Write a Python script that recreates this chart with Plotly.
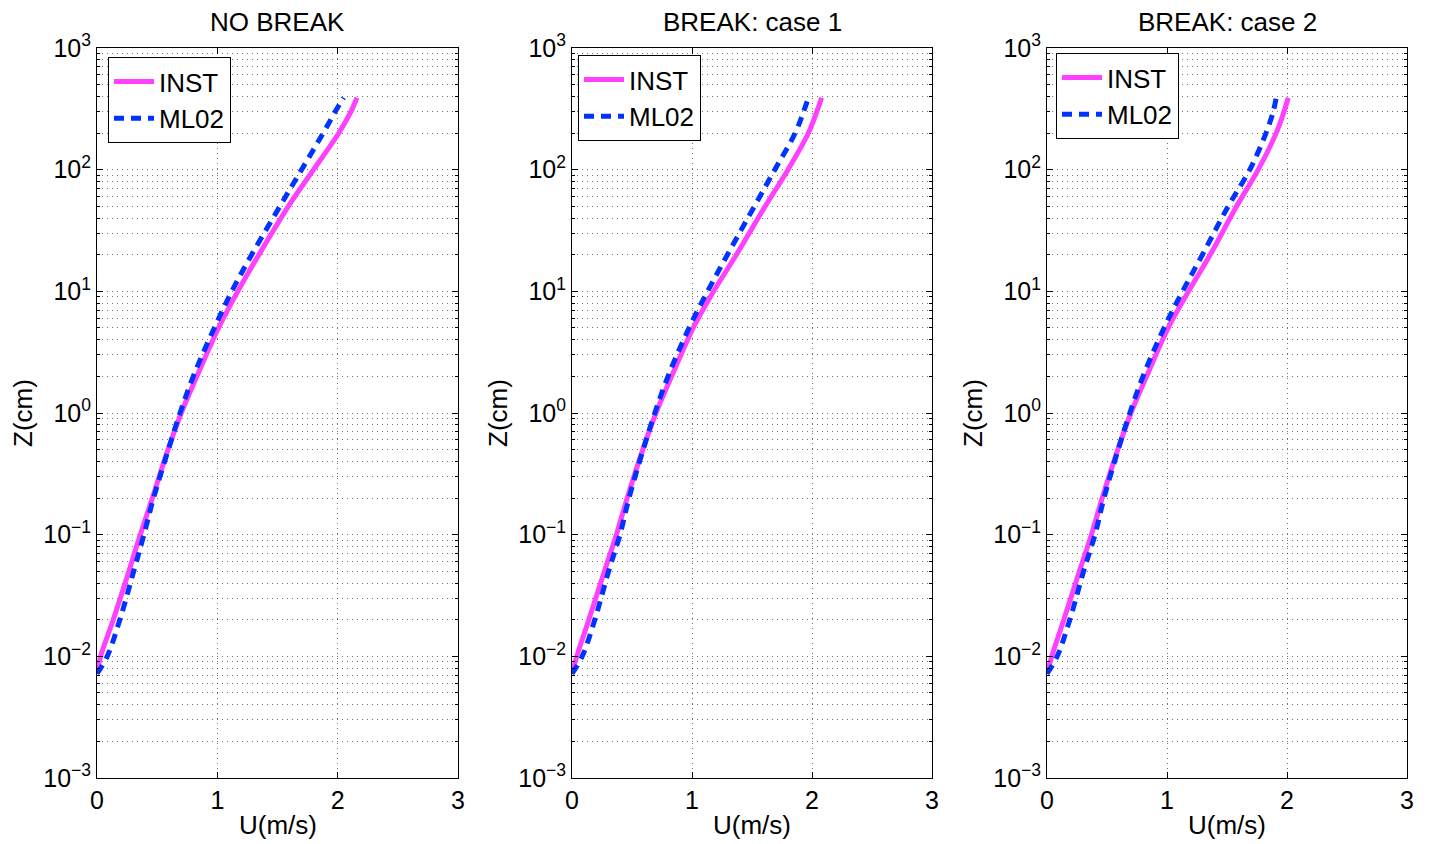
import plotly.graph_objects as go

# ---------------- data ----------------
z_cm = [0.0072, 0.01, 0.02, 0.05, 0.1, 0.2, 0.5, 1, 2, 5, 10, 20, 50, 100, 200, 300, 390]

panel_titles = ["NO BREAK", "BREAK: case 1", "BREAK: case 2"]
series_names = ["INST", "ML02"]

inst_nobreak = [0, 0.03, 0.135, 0.265, 0.36, 0.46, 0.59, 0.70, 0.83, 1.01, 1.17, 1.345, 1.59, 1.80, 2.01, 2.11, 2.16]
ml02_nobreak = [0, 0.085, 0.19, 0.305, 0.39, 0.47, 0.593, 0.69, 0.80, 0.975, 1.12, 1.285, 1.52, 1.70, 1.88, 1.98, 2.05]

inst_case1 = [0, 0.04, 0.14, 0.27, 0.37, 0.46, 0.59, 0.70, 0.83, 1.01, 1.18, 1.37, 1.61, 1.80, 1.97, 2.04, 2.08]
ml02_case1 = [0, 0.085, 0.19, 0.305, 0.40, 0.475, 0.593, 0.69, 0.80, 0.975, 1.13, 1.295, 1.52, 1.69, 1.86, 1.93, 1.97]

inst_case2 = [0, 0.04, 0.14, 0.27, 0.37, 0.46, 0.59, 0.70, 0.83, 1.01, 1.18, 1.36, 1.58, 1.76, 1.91, 1.975, 2.01]
ml02_case2 = [0, 0.085, 0.19, 0.305, 0.40, 0.475, 0.593, 0.69, 0.80, 0.975, 1.13, 1.295, 1.51, 1.69, 1.825, 1.885, 1.91]

x_ticks = [0, 1, 2, 3]
y_exponents = [-3, -2, -1, 0, 1, 2, 3]

panels = [
    (inst_nobreak, ml02_nobreak),
    (inst_case1, ml02_case1),
    (inst_case2, ml02_case2),
]

# ---------------- styling ----------------
OFF = 8                      # default page margin of the html body
W, H = 1432 - OFF, 844 - OFF
FONT = "Liberation Sans, Arial, Helvetica, sans-serif"
PINK = "#FF40FF"
BLUE = "#0033FF"
GRID = "rgba(0,0,0,0.55)"
FS = 26


def fx(px):
    return (px - OFF) / W


def fy(py):
    return 1 - (py - OFF) / H


x_px = [(97, 458), (572, 932), (1047, 1407)]
y_top_px, y_bot_px = 48, 778
legend_px = [(108, 57), (578, 55), (1056, 53)]

fig = go.Figure()

y_tickvals = [10.0 ** e for e in y_exponents]
y_ticktext = ["10<sup>\u2212%d</sup>" % (-e) if e < 0 else "10<sup>%d</sup>" % e for e in y_exponents]
minor_vals = [m * 10.0 ** e for e in y_exponents[:-1] for m in range(2, 10)]

for i, (inst, ml02) in enumerate(panels):
    k = "" if i == 0 else str(i + 1)
    xa, ya = "x" + k, "y" + k
    leg = "legend" + k
    fig.add_trace(go.Scatter(x=inst, y=z_cm, mode="lines", name=series_names[0],
                             line=dict(color=PINK, width=5, shape="spline", smoothing=1.0),
                             xaxis=xa, yaxis=ya, legend=leg))
    fig.add_trace(go.Scatter(x=ml02, y=z_cm, mode="lines", name=series_names[1],
                             line=dict(color=BLUE, width=5, dash="10px,7px", shape="spline",
                                       smoothing=1.0),
                             xaxis=xa, yaxis=ya, legend=leg))

    x0, x1 = x_px[i]
    dom_x = [fx(x0), fx(x1)]
    dom_y = [fy(y_bot_px), fy(y_top_px)]
    fig.layout["xaxis" + k] = dict(
        domain=dom_x, range=[0, 3], anchor=ya, automargin=False,
        tickmode="array", tickvals=x_ticks, ticktext=[str(v) for v in x_ticks],
        ticks="inside", ticklen=6, tickcolor="black",
        showline=True, linecolor="black", linewidth=1, mirror="ticks",
        showgrid=True, gridcolor=GRID, griddash="1px,4px", gridwidth=1,
        zeroline=False, tickfont=dict(family=FONT, size=FS - 1, color="black"),
    )
    fig.layout["yaxis" + k] = dict(
        domain=dom_y, type="log", range=[-3, 3], anchor=xa, automargin=False,
        tickmode="array", tickvals=y_tickvals, ticktext=y_ticktext,
        ticks="inside", ticklen=6, tickcolor="black",
        showline=True, linecolor="black", linewidth=1, mirror="ticks",
        showgrid=True, gridcolor=GRID, griddash="1px,4px", gridwidth=1,
        zeroline=False, tickfont=dict(family=FONT, size=FS - 1, color="black"),
        minor=dict(tickmode="array", tickvals=minor_vals, ticks="inside", ticklen=3,
                   tickcolor="black", showgrid=True, gridcolor=GRID,
                   griddash="1px,4px", gridwidth=1),
    )
    lx, ly = legend_px[i]
    fig.layout[leg] = dict(
        x=fx(lx), y=fy(ly), xanchor="left", yanchor="top",
        bgcolor="white", bordercolor="black", borderwidth=1,
        font=dict(family=FONT, size=FS, color="black"),
        itemwidth=40, tracegroupgap=0,
    )
    cx = fx((x0 + x1) / 2)
    fig.add_annotation(text=panel_titles[i], x=cx, y=fy(22), xref="paper", yref="paper",
                       xanchor="center", yanchor="middle",
                       showarrow=False, font=dict(family=FONT, size=FS, color="black"))
    fig.add_annotation(text="U(m/s)", x=cx, y=fy(825), xref="paper", yref="paper",
                       xanchor="center", yanchor="middle",
                       showarrow=False, font=dict(family=FONT, size=FS, color="black"))
    fig.add_annotation(text="Z(cm)", x=fx(x0 - 74), y=fy(413), xref="paper", yref="paper",
                       xanchor="center", yanchor="middle",
                       showarrow=False, textangle=-90,
                       font=dict(family=FONT, size=FS, color="black"))

fig.update_layout(
    width=W, height=H,
    margin=dict(l=0, r=0, t=0, b=0, autoexpand=False),
    paper_bgcolor="white", plot_bgcolor="white",
    showlegend=True,
)

fig.write_html("out.html")
